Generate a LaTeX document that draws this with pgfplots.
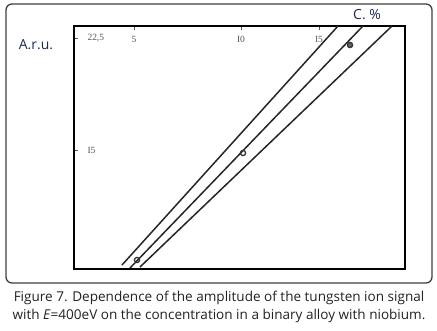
\documentclass[border=0pt]{standalone}
\usepackage{pgfplots}
\pgfplotsset{compat=1.18}
\usepackage{fontspec}
\setmainfont{Open Sans}
\newfontfamily\serifnum{Liberation Serif}
\definecolor{capcol}{HTML}{222222}
\definecolor{lblcol}{HTML}{1E2850}
\definecolor{tickcol}{HTML}{555555}
\begin{document}
\begin{tikzpicture}[x=1bp,y=1bp]
\useasboundingbox (0,0) rectangle (437,330);
\draw[line width=1.3bp, draw=black!75, rounded corners=6bp] (6,47) rectangle (432,326);
\begin{axis}[
  at={(74bp,61bp)}, anchor=south west,
  width=331bp, height=243bp, scale only axis,
  xmin=74, xmax=405, ymin=61, ymax=304,
  axis line style={line width=2.6bp},
  xtick={134,241,319}, xticklabels={5,I0,I5},
  xtick pos=upper, xticklabel pos=upper,
  ytick={292,180}, yticklabels={22{,}5,I5},
  ytick pos=left, yticklabel pos=left,
  major tick length=4bp,
  tick style={line width=0.7bp, tickcol},
  xticklabel style={font=\serifnum\fontsize{9.5}{10}\selectfont, text=tickcol, yshift=-20bp},
  yticklabel style={font=\serifnum\fontsize{9.5}{10}\selectfont, text=tickcol, anchor=west, xshift=10bp},
  clip=false,
]
\addplot[black!85, line width=1.5bp] coordinates {(122,65) (338,304)};
\addplot[black!85, line width=1.5bp] coordinates {(130,62) (363,304)};
\addplot[black!85, line width=1.5bp] coordinates {(140,63) (392,304)};
\addplot[only marks, mark=o, mark size=2.6bp, mark options={line width=1.3bp, draw=black!80, fill=white}] coordinates {(137,70) (243,177)};
\addplot[only marks, mark=*, mark size=2.6bp, mark options={line width=1.3bp, draw=black!80, fill=black!60}] coordinates {(350,285)};
\end{axis}
\node[text=lblcol, font=\fontsize{14}{16}\selectfont] at (36,285) {A.r.u.};
\node[text=lblcol, font=\fontsize{14}{16}\selectfont] at (367,315) {C. \%};
\node[text=capcol, font=\fontsize{13.6}{18}\selectfont, align=center] at (219,23) {Figure 7. Dependence of the amplitude of the tungsten ion signal\\with \textit{E}=400eV on the concentration in a binary alloy with niobium.};
\end{tikzpicture}
\end{document}
